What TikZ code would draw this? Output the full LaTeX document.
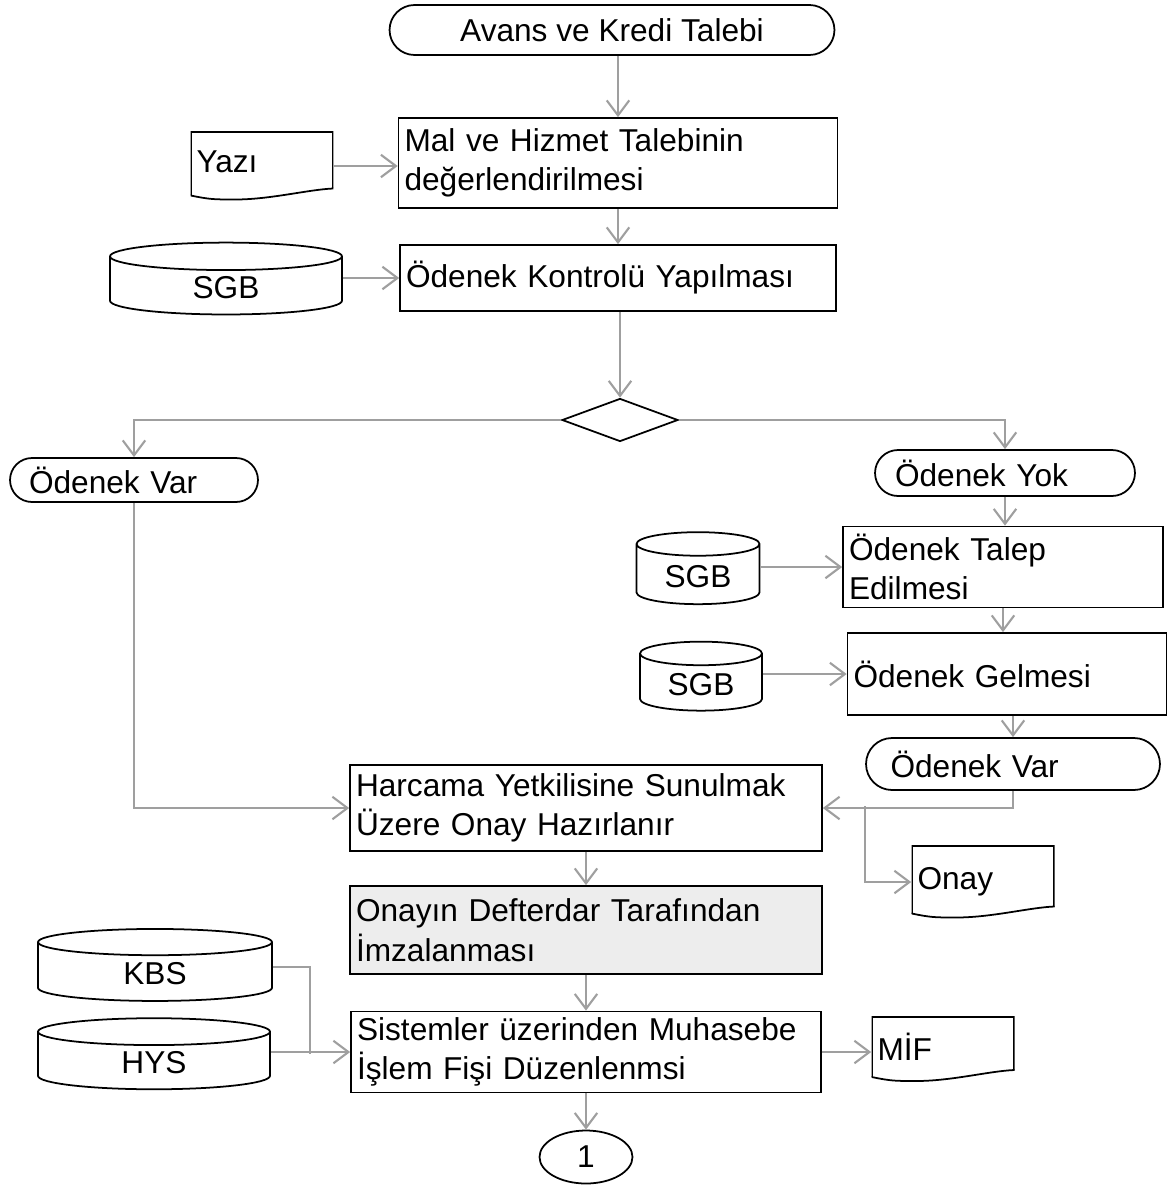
\documentclass[tikz,border=0pt]{standalone}
\usepackage{fontspec}
\setmainfont{Liberation Sans}
\usetikzlibrary{arrows.meta,calc,shapes.geometric,shapes.misc}

\tikzset{
  box/.style={draw, line width=1pt, rectangle, align=left, inner xsep=0.12cm},
  term/.style={draw, line width=1pt, rounded rectangle, inner xsep=0pt},
  doc/.style={rectangle, align=left, inner xsep=0.12cm,
    path picture={
      \coordinate (sw) at (path picture bounding box.south west);
      \coordinate (ne) at (path picture bounding box.north east);
      \draw[line width=2pt] ($(sw)+(0,-5)$) |- (ne) -- ($(sw -| ne)+(0,-12)$);
      \draw[line width=1pt] ($(sw)+(0,-5)$) .. controls +(20,4) and +(-22,0) .. ($(sw)+(45,-1)$)
        .. controls +(35,0) and +(-25,1) .. ($(sw -| ne)+(0,-12)$);
    }},
  base/.style={draw, line width=1pt, cylinder, shape border rotate=90},
  flow/.style={draw=gray!75, line width=1.2pt, -{Straight Barb[length=0.3cm,width=0.45cm]}}
}

\begin{document}
\begin{tikzpicture}[x=0.02cm, y=-0.02cm, font=\fontsize{18}{22.5}\selectfont]

      \useasboundingbox (0,0) rectangle (1173,1186);

      % main column
      \node[term, minimum width=8.9cm, minimum height=1cm] (start) at (612,30) {Avans ve Kredi Talebi};
      \node[box, minimum width=8.78cm, minimum height=1.8cm, text width=8.54cm] (mal) at (618,163)
        {Mal ve Hizmet Talebinin\\değerlendirilmesi};
      \node[box, minimum width=8.72cm, minimum height=1.32cm, text width=8.48cm] (kontrol) at (618,278)
        {Ödenek Kontrolü Yapılması};
      \node[draw, line width=1pt, diamond, aspect=2.7, inner sep=0pt,
        minimum width=2.32cm, minimum height=0.86cm] (dia) at (620,420) {};
      \node[box, minimum width=9.44cm, minimum height=1.72cm, text width=9.2cm] (harc) at (586,808)
        {Harcama Yetkilisine Sunulmak\\Üzere Onay Hazırlanır};
      \node[box, fill=black!7, minimum width=9.44cm, minimum height=1.76cm, text width=9.2cm] (imza) at (586,930)
        {Onayın Defterdar Tarafından\\İmzalanması};
      \node[box, minimum width=9.4cm, minimum height=1.62cm, text width=9.16cm] (sist) at (586,1052)
        {Sistemler üzerinden Muhasebe\\İşlem Fişi Düzenlenmsi};
      \node[draw, line width=1pt, ellipse, minimum width=1.86cm, minimum height=1.06cm] (one) at (586,1157) {1};

      % inputs and outputs
      \node[doc, minimum width=2.86cm, minimum height=1.38cm, text width=2.62cm] (yazi) at (262,166) {\raisebox{0.18cm}{Yazı}};
      \node[base, aspect=0.35, minimum width=4.64cm, minimum height=1.42cm] (sgb1) at (226,288) {SGB};
      \node[base, aspect=0.35, minimum width=4.68cm, minimum height=1.44cm] (kbs) at (155,974) {KBS};
      \node[base, aspect=0.35, minimum width=4.64cm, minimum height=1.36cm] (hys) at (154,1063) {HYS};
      \node[doc, minimum width=2.86cm, minimum height=1.46cm, text width=2.62cm] (onay) at (983,882) {\raisebox{0.1cm}{Onay}};
      \node[doc, minimum width=2.86cm, minimum height=1.32cm, text width=2.62cm] (mif) at (943,1049) {\raisebox{0.1cm}{MİF}};

      % right branch
      \node[term, minimum width=4.96cm, minimum height=0.88cm, text width=4.2cm, align=left] (varL) at (134,480) {Ödenek Var};
      \node[term, minimum width=5.2cm, minimum height=0.92cm, text width=4.4cm, align=left] (yok) at (1005,473) {Ödenek Yok};
      \node[box, minimum width=6.4cm, minimum height=1.62cm, text width=6.16cm] (talep) at (1003,567)
        {Ödenek Talep\\Edilmesi};
      \node[base, aspect=0.3, minimum width=2.46cm, minimum height=1.44cm] (sgb2) at (698,577) {SGB};
      \node[box, minimum width=6.38cm, minimum height=1.64cm, text width=6.14cm] (gelme) at (1007,674)
        {Ödenek Gelmesi};
      \node[base, aspect=0.3, minimum width=2.44cm, minimum height=1.38cm] (sgb3) at (701,685) {SGB};
      \node[term, minimum width=5.88cm, minimum height=1.04cm, text width=4.9cm, align=left] (varR) at (1013,764) {Ödenek Var};

      \coordinate (br) at (865,806);
      \coordinate (jn) at (310,1054);

      \begin{scope}[every edge/.style={flow}]
        \path (mal.north |- start.south) edge (mal.north);
        \path (yazi.east) edge (yazi.east -| mal.west);
        \path (mal.south) edge (kontrol.north);
        \path (sgb1.east |- kontrol.west) edge (kontrol.west);
        \path (dia.north |- kontrol.south) edge (dia.north);
        \path (yok.south) edge (yok.south |- talep.north);
        \path (sgb2.east |- talep.west) edge (talep.west);
        \path (talep.south) edge (talep.south |- gelme.north);
        \path (sgb3.east |- gelme.west) edge (gelme.west);
        \path (varR.north |- gelme.south) edge (varR.north);
        \path (harc.south) edge (imza.north);
        \path (imza.south) edge (sist.north);
        \path (hys.east |- sist.west) edge (sist.west);
        \path (sist.east) edge (sist.east -| mif.west);
        \path (sist.south) edge (one.north);
      \end{scope}

      \draw[flow] (dia.west) -| (varL.north);
      \draw[flow] (dia.east) -| (yok.north);
      \draw[flow] (varL.south) |- (harc.west);
      \draw[flow] (varR.south) |- (harc.east);
      \draw[flow] (br) |- (onay.west);
      \draw[flow, -] (kbs.east |- 0,967) -| (jn);

    \end{tikzpicture}
\end{document}
